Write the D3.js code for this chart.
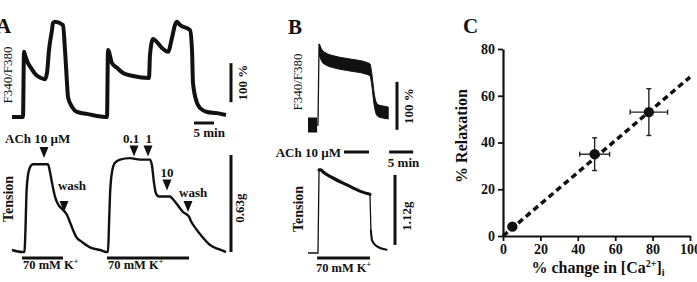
<!DOCTYPE html>
<html><head><meta charset="utf-8">
<script src="https://cdn.jsdelivr.net/npm/d3@7"></script>
<style>
body{margin:0;background:#fff}
text{font-family:"Liberation Serif","Times New Roman",serif;font-weight:bold;fill:#111}
</style>
</head><body>
<svg id="c" width="697" height="282"></svg>
<script>
// ---------- DATA ----------
// Panel A, Fura-2 ratio (% change) vs time (min)
const aRatio = [[0,0],[2.75,0],[3,167],[3.25,159],[4,138],[4.75,126],[6,108],[7.25,100],[8.25,97],[8.75,113],[9.25,172],[10,223],[10.25,241],[10.75,244],[12.75,236],[13.25,172],[13.75,87],[14,51],[15,26],[16.25,13],[18.75,8],[23.75,0],[24,172],[25,138],[26.25,126],[27.75,113],[30.25,105],[34.25,100],[34.5,159],[35.25,200],[35.75,197],[37.5,177],[39,167],[40,203],[40.75,236],[41.25,244],[42,236],[44.5,223],[45,172],[45.25,87],[46.25,36],[47,23],[48.75,13],[51.25,10],[53.5,5]];
// Panel A, tension (g) vs time (min)
const aTension = [[0,0.013],[2.5,0],[3.1,0],[3.4,0.175],[3.6,0.37],[4,0.5],[4.5,0.55],[5.25,0.57],[9,0.57],[9.5,0.52],[10,0.45],[10.75,0.36],[11.5,0.31],[12.5,0.28],[13.25,0.26],[13.75,0.24],[14.25,0.21],[15,0.16],[16,0.1],[17.5,0.065],[19.5,0.03],[22,0.013],[23.75,0],[24,0],[24.25,0.175],[24.5,0.37],[25,0.52],[25.75,0.58],[27,0.6],[29.5,0.61],[32,0.6],[34.5,0.6],[35,0.56],[35.5,0.45],[36,0.38],[36.75,0.36],[38.25,0.36],[39.5,0.36],[40,0.35],[41.25,0.31],[42.75,0.26],[44.25,0.23],[44.75,0.2],[45.75,0.16],[47.5,0.1],[49.5,0.045],[51.5,0.02],[53.5,0]];
// Panel A, ACh additions / wash: [time, tension level of tip]
const aMarks = [[8,0.61],[13,0.26],[30.5,0.62],[34,0.62],[38.75,0.40],[44,0.26]];
const aKBars = [[2.5,12.75],[23.75,44.25]];
// Panel B, ratio (% change) vs time (min)
const bRatioBase = [[0,0],[1.9,0]];
const bRatioRise = [[1.9,0],[2.08,0],[2.3,169],[2.4,156]];
const bRatioNoisy = [[2.4,156],[2.92,144],[3.75,137.5],[5.6,131],[8.75,125],[11.9,119],[12.9,115],[13.3,94],[13.75,56],[14.2,35],[14.8,29],[15.6,27],[16.7,25]];
// Panel B, tension (g) vs time (min)
const bTension = [[0,0],[2.08,0],[2.3,1.33],[2.7,1.33],[3.1,1.3],[5.2,1.2],[8.1,1.09],[10.8,0.99],[12.9,0.94],[13.1,0.37],[13.3,0.21],[13.96,0.13],[15,0.08],[16.5,0.05]];
const bAChBar = [7.5,12.7];
const bKBar = [1.9,12.9];
// Panel C
const cX = [5,49,78];
const cY = [4,35,53];
const cXErr = [0,8,10];
const cYErr = [0,7,10];
const cFitX = [0,100];
const cFitY = [0,68];
const cXTicks = [0,20,40,60,80,100];
const cYTicks = [0,20,40,60,80];

// ---------- DRAW ----------
const svg = d3.select("#c");
svg.append("rect").attr("width",697).attr("height",282).attr("fill","#fff");

function vtext(x,y,str,size){
  return svg.append("text").attr("transform",`translate(${x},${y}) rotate(-90)`)
    .attr("text-anchor","middle").attr("dy","0.35em").style("font-size",size+"px").text(str);
}
function bar(x1,y1,x2,y2,w){
  svg.append("line").attr("x1",x1).attr("y1",y1).attr("x2",x2).attr("y2",y2)
    .attr("stroke","#111").attr("stroke-width",w||3);
}
function label(x,y,str,size,anchor){
  return svg.append("text").attr("x",x).attr("y",y).attr("text-anchor",anchor||"middle")
    .style("font-size",(size||13)+"px").text(str);
}
function kLabel(x,y,anchor){
  const t = svg.append("text").attr("x",x).attr("y",y).attr("text-anchor",anchor||"start").style("font-size","12.5px");
  t.append("tspan").text("70 mM K");
  t.append("tspan").attr("dy","-5").style("font-size","8px").text("+");
}

// Panel A
const xA = d3.scaleLinear().domain([0,54]).range([12,228]);
const yAR = d3.scaleLinear().domain([0,100]).range([117,78]);
const yAT = d3.scaleLinear().domain([0,0.63]).range([252,155]);
svg.append("path").datum(aRatio)
  .attr("d",d3.line().x(d=>xA(d[0])).y(d=>yAR(d[1])).curve(d3.curveMonotoneX))
  .attr("fill","none").attr("stroke","#111").attr("stroke-width",4).attr("stroke-linejoin","round");
svg.append("path").datum(aTension)
  .attr("d",d3.line().x(d=>xA(d[0])).y(d=>yAT(d[1])).curve(d3.curveMonotoneX))
  .attr("fill","none").attr("stroke","#111").attr("stroke-width",2.4).attr("stroke-linejoin","round");

svg.append("text").attr("x",-4).attr("y",33).style("font-size","21px").text("A");
vtext(7,75,"F340/F380",13).style("font-weight","normal");
vtext(8,199,"Tension",14);
// scale bars A
bar(231,yAR(38),231,yAR(138),3);
vtext(242,yAR(88),"100 %",13);
bar(xA(45.5),123,xA(50.5),123,3);
label(xA(49.3),137,"5 min",13);
bar(231,yAT(0),231,yAT(0.63),3);
vtext(239,208,"0.63g",13);

// markers
aMarks.forEach(m=>{
  const cx = xA(m[0]), tip = yAT(m[1]);
  svg.append("path").attr("d",`M${cx-4.5},${tip-11}L${cx+4.5},${tip-11}L${cx},${tip}Z`).attr("fill","#111");
});
label(5,143,"ACh 10 µM",13,"start");
label(xA(29.8),143,"0.1",13);
label(xA(34.2),143,"1",13);
label(xA(38.75),177,"10",13);
label(xA(15),190,"wash",13);
label(xA(45.3),197,"wash",13);
aKBars.forEach((b,i)=>{
  bar(xA(b[0]),258,xA(b[1]),258,3);
  kLabel(xA(b[0])+1,269);
});

// Panel B
const xB = d3.scaleLinear().domain([0,16.7]).range([308,388.2]);
const yBR = d3.scaleLinear().domain([0,100]).range([125,77]);
const yBT = d3.scaleLinear().domain([0,1.12]).range([253,183]);
svg.append("path").datum(bRatioBase)
  .attr("d",d3.area().x(d=>xB(d[0])).y0(d=>yBR(d[1])+7.5).y1(d=>yBR(d[1])-7.5))
  .attr("fill","#111");
svg.append("path").datum(bRatioRise)
  .attr("d",d3.line().x(d=>xB(d[0])).y(d=>yBR(d[1])))
  .attr("fill","none").attr("stroke","#111").attr("stroke-width",1.3);
svg.append("path").datum(bRatioNoisy)
  .attr("d",d3.area().x(d=>xB(d[0])).y0(d=>yBR(d[1])+6).y1(d=>yBR(d[1])-6).curve(d3.curveMonotoneX))
  .attr("fill","#111").attr("stroke","#111").attr("stroke-width",1);
const lineBT = d3.line().x(d=>xB(d[0])).y(d=>yBT(d[1]));
svg.append("path").datum(bTension).attr("d",lineBT).attr("fill","none").attr("stroke","#111").attr("stroke-width",1.3);
svg.append("path").datum(bTension.filter(d=>d[0]>=2.3&&d[0]<=12.9)).attr("d",lineBT.curve(d3.curveMonotoneX)).attr("fill","none").attr("stroke","#111").attr("stroke-width",3.2).attr("stroke-linecap","round");
svg.append("path").datum(bTension.filter(d=>d[0]>=13.1)).attr("d",lineBT.curve(d3.curveMonotoneX)).attr("fill","none").attr("stroke","#111").attr("stroke-width",2);

svg.append("text").attr("x",288).attr("y",34).style("font-size","21px").text("B");
vtext(297,82,"F340/F380",13).style("font-weight","normal");
vtext(298,209,"Tension",14);
bar(397,yBR(-10),397,yBR(90),3);
vtext(408,106,"100 %",13);
bar(xB(bAChBar[0]),152,xB(bAChBar[1]),152,3);
label(xB(bAChBar[0])-3,157,"ACh 10 µM",13,"end");
bar(xB(16.9),152,xB(21.9),152,3);
label(xB(19.9),167,"5 min",13);
bar(395,yBT(0.13),395,yBT(1.25),3);
vtext(406,216,"1.12g",13);
bar(xB(bKBar[0]),258,xB(bKBar[1]),258,3);
kLabel((xB(bKBar[0])+xB(bKBar[1]))/2,272,"middle");

// Panel C
const xC = d3.scaleLinear().domain([0,100]).range([503,690]);
const yC = d3.scaleLinear().domain([0,80]).range([236,49]);
const gx = svg.append("g").attr("transform","translate(0,236)")
  .call(d3.axisBottom(xC).tickValues(cXTicks).tickSize(5).tickSizeOuter(0).tickPadding(3));
const gy = svg.append("g").attr("transform","translate(503,0)")
  .call(d3.axisLeft(yC).tickValues(cYTicks).tickSize(5).tickSizeOuter(0).tickPadding(3));
[gx,gy].forEach(g=>{
  g.select(".domain").attr("stroke","#111").attr("stroke-width",2.2);
  g.selectAll(".tick line").attr("stroke","#111").attr("stroke-width",1.8);
  g.selectAll(".tick text").style("font-family",'"Liberation Serif",serif').style("font-weight","bold").style("font-size","14px").attr("fill","#111");
});
svg.append("line").attr("x1",xC(cFitX[0])).attr("y1",yC(cFitY[0])).attr("x2",xC(cFitX[1])).attr("y2",yC(cFitY[1]))
  .attr("stroke","#111").attr("stroke-width",3.5).attr("stroke-dasharray","6,4");
cX.forEach((x,i)=>{
  const px=xC(x), py=yC(cY[i]);
  if(cXErr[i]>0){
    svg.append("line").attr("x1",xC(x-cXErr[i])).attr("x2",xC(x+cXErr[i])).attr("y1",py).attr("y2",py).attr("stroke","#222").attr("stroke-width",1.4);
    [x-cXErr[i],x+cXErr[i]].forEach(v=>svg.append("line").attr("x1",xC(v)).attr("x2",xC(v)).attr("y1",py-2.5).attr("y2",py+2.5).attr("stroke","#222").attr("stroke-width",1.4));
  }
  if(cYErr[i]>0){
    svg.append("line").attr("x1",px).attr("x2",px).attr("y1",yC(cY[i]-cYErr[i])).attr("y2",yC(cY[i]+cYErr[i])).attr("stroke","#222").attr("stroke-width",1.4);
    [cY[i]-cYErr[i],cY[i]+cYErr[i]].forEach(v=>svg.append("line").attr("x1",px-2.5).attr("x2",px+2.5).attr("y1",yC(v)).attr("y2",yC(v)).attr("stroke","#222").attr("stroke-width",1.4));
  }
  svg.append("circle").attr("cx",px).attr("cy",py).attr("r",5.2).attr("fill","#111");
});
svg.append("text").attr("x",463).attr("y",33).style("font-size","21px").text("C");
vtext(461,136,"% Relaxation",16);
const xl = svg.append("text").attr("x",598).attr("y",273).attr("text-anchor","middle").style("font-size","16px");
xl.append("tspan").text("% change in [Ca");
xl.append("tspan").attr("dy","-6").style("font-size","10px").text("2+");
xl.append("tspan").attr("dy","6").text("]");
xl.append("tspan").attr("dy","3").style("font-size","10px").text("i");
</script>
</body></html>
